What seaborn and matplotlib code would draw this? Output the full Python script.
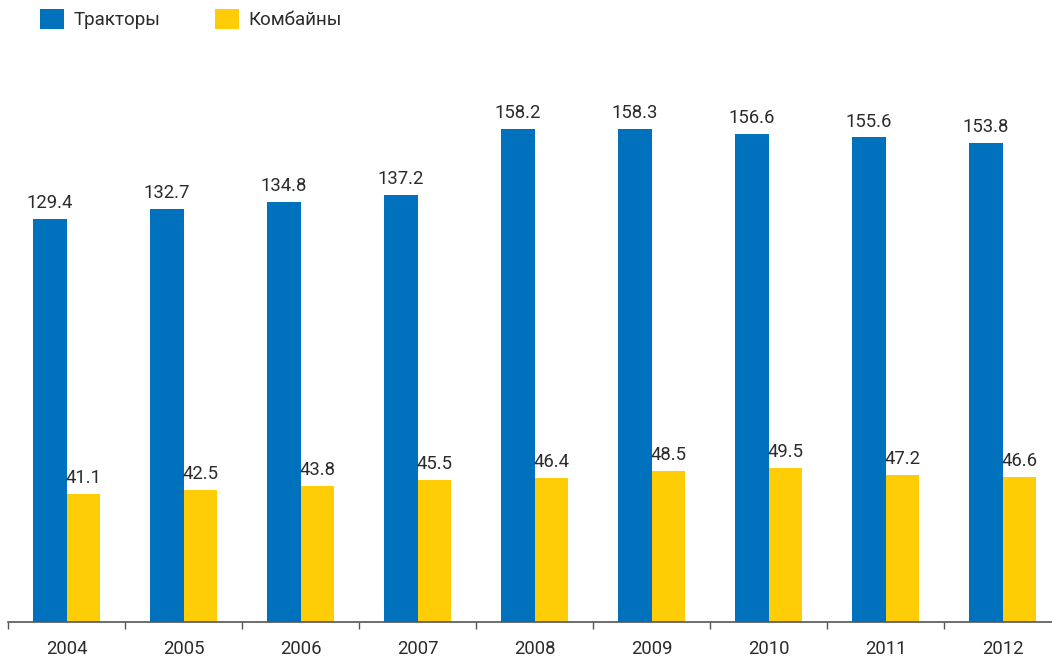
import numpy as np
import pandas as pd
import matplotlib
matplotlib.use("Agg")
import matplotlib.pyplot as plt
import seaborn as sns
from matplotlib.patches import Patch

years = ["2004", "2005", "2006", "2007", "2008", "2009", "2010", "2011", "2012"]
tractors = [129.4, 132.7, 134.8, 137.2, 158.2, 158.3, 156.6, 155.6, 153.8]
combines = [41.1, 42.5, 43.8, 45.5, 46.4, 48.5, 49.5, 47.2, 46.6]
series_names = ["Тракторы", "Комбайны"]
colors = ["#0071bc", "#ffcd05"]

df = pd.DataFrame({
    "year": years * 2,
    "value": tractors + combines,
    "series": [series_names[0]] * len(years) + [series_names[1]] * len(years),
})

sns.set_style("white")
plt.rcParams["font.family"] = ["Roboto", "DejaVu Sans"]
text_color = "#2b2b2b"

fig = plt.figure(figsize=(10.52, 6.59), dpi=100)
ax = fig.add_axes([8 / 1052, 37 / 659, 1 - 8 / 1052, 622 / 659])

sns.barplot(data=df, x="year", y="value", hue="series", palette=colors,
            width=0.58, saturation=1, linewidth=0, ax=ax, legend=False)

for cont in ax.containers:
    ax.bar_label(cont, fmt="%.1f", padding=5, fontsize=13.3, color=text_color)

ax.set_ylim(0, 622 / 3.114)
ax.set_xlim(-0.5, -0.5 + 1044 / 117)
ax.set_xlabel("")
ax.set_ylabel("")
ax.set_yticks([])

for side in ["top", "right", "left"]:
    ax.spines[side].set_visible(False)
ax.spines["bottom"].set_color("#555555")
ax.spines["bottom"].set_linewidth(1.2)

ax.set_xticks(np.arange(len(years)))
ax.set_xticklabels(years)
ax.tick_params(axis="x", which="major", bottom=False, length=0, pad=13,
               labelsize=13.3, labelcolor=text_color)
ax.set_xticks(np.arange(len(years)) - 0.5, minor=True)
ax.tick_params(axis="x", which="minor", bottom=True, length=5, width=1,
               color="#555555", direction="out")

handles = [Patch(facecolor=c, edgecolor="none") for c in colors]
fig.legend(handles, series_names, loc="upper left", bbox_to_anchor=(0.022, 1.012),
           ncol=2, frameon=False, fontsize=13.5, handlelength=1.3, handleheight=1.3,
           handletextpad=0.5, columnspacing=2.9, labelcolor=text_color)

fig.savefig("out.png", dpi=100)
plt.close()
